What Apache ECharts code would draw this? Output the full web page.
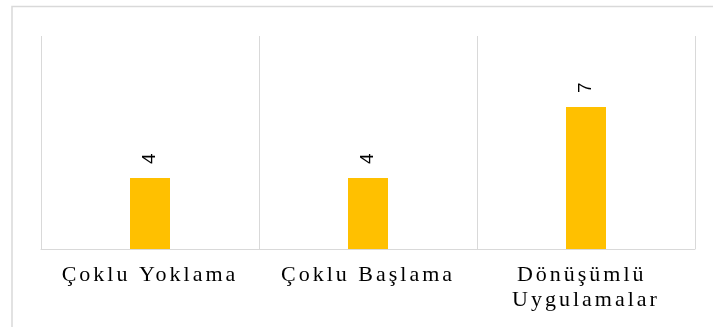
<!DOCTYPE html>
<html>
<head>
<meta charset="utf-8">
<script src="https://cdn.jsdelivr.net/npm/echarts@6/dist/echarts.min.js"></script>
<style>
html,body{margin:0;padding:0;background:#fff;}
#chart{width:713px;height:327px;}
</style>
</head>
<body>
<div id="chart"></div>
<script>
const categories = ['Çoklu Yoklama', 'Çoklu Başlama', 'Dönüşümlü Uygulamalar'];
const values = [4, 4, 7];
</script>
<script>
// letter spacing for serif category labels (canvas letterSpacing, applied whenever the font is set)
(function () {
  const proto = CanvasRenderingContext2D.prototype;
  const desc = Object.getOwnPropertyDescriptor(proto, 'font');
  if (desc && 'letterSpacing' in proto) {
    Object.defineProperty(proto, 'font', {
      configurable: true,
      get() { return desc.get.call(this); },
      set(v) {
        desc.set.call(this, v);
        this.letterSpacing = /Liberation Serif/.test(String(v)) ? '3px' : '0px';
      }
    });
  }
})();

const chart = echarts.init(document.getElementById('chart'), null, { renderer: 'canvas' });
chart.setOption({
  animation: false,
  backgroundColor: '#ffffff',
  graphic: [{
    type: 'rect',
    shape: { x: 12, y: 6.5, width: 1000, height: 1000 },
    style: { fill: 'none', stroke: '#d9d9d9', lineWidth: 1.5 },
    silent: true
  }],
  grid: { left: 41, right: 18, top: 36, bottom: 78, containLabel: false },
  xAxis: {
    type: 'category',
    data: categories,
    boundaryGap: true,
    axisLine: { show: true, lineStyle: { color: '#d9d9d9', width: 1 } },
    axisTick: { show: false },
    splitLine: { show: true, lineStyle: { color: '#d9d9d9', width: 1 } },
    axisLabel: {
      interval: 0,
      margin: 14,
      width: 205,
      overflow: 'break',
      lineHeight: 25,
      fontFamily: 'Liberation Serif',
      fontSize: 22,
      color: '#000000'
    }
  },
  yAxis: {
    type: 'value',
    min: 1,
    max: 10,
    interval: 1,
    show: true,
    axisLine: { show: false },
    axisTick: { show: false },
    axisLabel: { show: false },
    splitLine: { show: false }
  },
  series: [{
    type: 'bar',
    data: values,
    barWidth: 40,
    clip: true,
    itemStyle: { color: '#FFC000' },
    label: {
      show: true,
      position: 'top',
      distance: 14,
      rotate: 90,
      align: 'left',
      verticalAlign: 'middle',
      fontFamily: 'Liberation Sans',
      fontSize: 19,
      color: '#000000'
    }
  }]
});
</script>
</body>
</html>
